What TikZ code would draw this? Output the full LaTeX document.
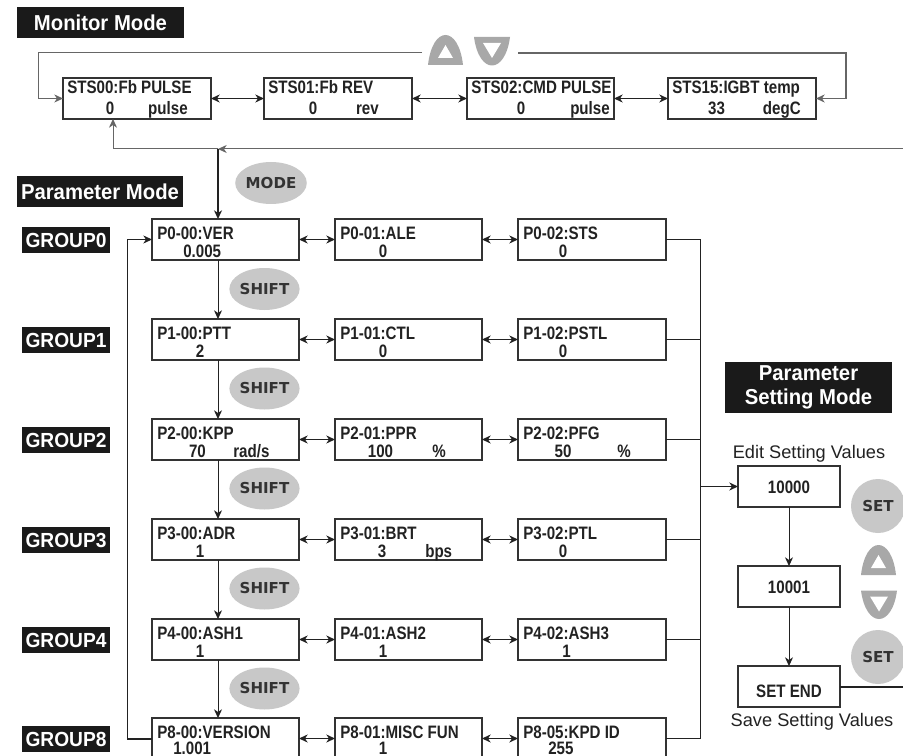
\documentclass[tikz,border=0pt]{standalone}
\usepackage{fontspec}
\setmainfont{Liberation Sans}
\newfontfamily\nfont{Liberation Sans}[FakeStretch=0.84]
\newfontfamily\lfont{Liberation Sans}[FakeStretch=0.94]
\newfontfamily\kfont{DejaVu Sans}
\usetikzlibrary{arrows.meta,calc,shapes.geometric}
\definecolor{boxline}{HTML}{333333}
\definecolor{keyfill}{HTML}{C8C8C8}
\definecolor{iconfill}{HTML}{A8A8A8}
\definecolor{labfill}{HTML}{1A1A1A}
\definecolor{ink}{HTML}{222222}
\definecolor{keyink}{HTML}{333333}
\definecolor{loopgray}{HTML}{666666}
\newcommand\mkmon[5]{\node[pbox, minimum width=#4*0.75pt] (#1) at (#2,#3) {};
  \node[btxt, anchor=base west] at ($(#1.north west)+(4,16)$) {#5};}
\newcommand\mkbox[5]{\node[pbox, minimum width=#4*0.75pt] (#1) at (#2,#3) {};
  \node[btxt, anchor=base west] at ($(#1.north west)+(5,20)$) {#5};}
\newcommand\vtxt[5]{\node[btxt, anchor=#2] at ($(#1.north west)+(#3,#4)$) {#5};}
\begin{document}
\begin{tikzpicture}[x=0.75pt,y=-0.75pt,
  pbox/.style={draw=boxline, line width=0.8pt, anchor=north west, inner sep=0pt, outer sep=0pt, minimum height=30.75pt},
  btxt/.style={inner sep=0pt, text=ink, font=\nfont\bfseries\fontsize{13.5pt}{15pt}\selectfont},
  labelbox/.style={fill=labfill, text=white, inner sep=0pt},
  grp/.style={labelbox, minimum width=66pt, minimum height=19.5pt, font=\lfont\bfseries\fontsize{15.3pt}{17pt}\selectfont},
  key/.style={ellipse, fill=keyfill, inner sep=0pt, minimum width=51.75pt, minimum height=31.5pt, text=keyink, font=\kfont\bfseries\fontsize{11.3pt}{12pt}\selectfont},
  setkey/.style={circle, fill=keyfill, inner sep=0pt, minimum size=40.5pt, text=keyink, font=\kfont\bfseries\fontsize{11.3pt}{12pt}\selectfont},
  tip/.tip={Stealth[length=6.5pt,width=6pt,inset=2pt]},
  arr/.style={-tip, line width=0.75pt, draw=ink},
  biarr/.style={tip-tip, line width=1pt, draw=ink},
  wire/.style={line width=0.75pt, draw=ink},
  upkey/.pic={\fill[iconfill] (-17.5,15) .. controls (-13,-25) and (13,-25) .. (17.5,15) -- cycle;
    \fill[white] (-7.5,8) -- (7.5,8) -- (0,-5) -- cycle;},
  downkey/.pic={\fill[iconfill] (-18,-14) .. controls (-13,24) and (13,24) .. (18,-14) -- cycle;
    \fill[white] (-9,-8) -- (9,-8) -- (0,7) -- cycle;}
]
\fill[white] (0,0) rectangle (903,756);
\useasboundingbox (0,0) rectangle (903,756);

% ---------- Monitor mode ----------
\node[labelbox, minimum width=125.25pt, minimum height=23.25pt, font=\lfont\bfseries\fontsize{16.2pt}{17.5pt}\selectfont] (mm) at (100.5,22.5) {Monitor Mode};

\mkmon{s00}{63}{78}{148}{STS00:Fb PULSE}
\vtxt{s00}{base}{47}{37}{0}\vtxt{s00}{base east}{125}{37}{pulse}
\mkmon{s01}{264}{78}{148}{STS01:Fb REV}
\vtxt{s01}{base}{49}{37}{0}\vtxt{s01}{base east}{115}{37}{rev}
\mkmon{s02}{467}{78}{147}{STS02:CMD PULSE}
\vtxt{s02}{base}{54}{37}{0}\vtxt{s02}{base east}{143}{37}{pulse}
\mkmon{s15}{668}{78}{148}{STS15:IGBT temp}
\vtxt{s15}{base}{48.5}{37}{33}\vtxt{s15}{base east}{133}{37}{degC}

\draw[biarr] (s00.east) -- (s01.west);
\draw[biarr] (s01.east) -- (s02.west);
\draw[biarr] (s02.east) -- (s15.west);

\pic at (445.5,50) {upkey};
\pic at (492,51) {downkey};
\coordinate (gl) at (422,53);
\coordinate (gr) at (518,53);
\coordinate (tl) at (38,53);
\coordinate (tr) at (846,53);
\draw[arr, draw=loopgray] (gl) -- (tl) |- (s00.west);
\draw[arr, draw=loopgray, line width=1.1pt] (gr) -- (tr) |- (s15.east);

% ---------- return line and MODE ----------
\coordinate (re) at (903,149);
\coordinate (mj) at (218,149);
\coordinate (vx) at (218,0);
\draw[arr, draw=loopgray] (re) -- (mj);
\draw[arr, draw=loopgray] (mj) -| ($(s00.south west)+(50,0)$);

% ---------- Parameter mode ----------
\node[labelbox, minimum width=124.5pt, minimum height=23.25pt, font=\lfont\bfseries\fontsize{16.2pt}{17.5pt}\selectfont] (pm) at (100,191.5) {Parameter Mode};
\node[key] (mode) at (271,183) {MODE};

% row 0
\mkbox{p00}{152}{219}{147}{P0-00:VER}\vtxt{p00}{base west}{31}{38}{0.005}
\mkbox{p01}{335}{219}{147}{P0-01:ALE}\vtxt{p01}{base}{48}{38}{0}
\mkbox{p02}{518}{219}{148}{P0-02:STS}\vtxt{p02}{base}{45}{38}{0}
% row 1
\mkbox{p10}{152}{319}{147}{P1-00:PTT}\vtxt{p10}{base}{48}{38}{2}
\mkbox{p11}{335}{319}{147}{P1-01:CTL}\vtxt{p11}{base}{48}{38}{0}
\mkbox{p12}{518}{319}{148}{P1-02:PSTL}\vtxt{p12}{base}{45}{38}{0}
% row 2
\mkbox{p20}{152}{419}{147}{P2-00:KPP}\vtxt{p20}{base}{45.5}{38}{70}\vtxt{p20}{base west}{81}{38}{rad/s}
\mkbox{p21}{335}{419}{147}{P2-01:PPR}\vtxt{p21}{base}{45.5}{38}{100}\vtxt{p21}{base west}{97}{38}{\%}
\mkbox{p22}{518}{419}{148}{P2-02:PFG}\vtxt{p22}{base}{45}{38}{50}\vtxt{p22}{base west}{99}{38}{\%}
% row 3
\mkbox{p30}{152}{519}{147}{P3-00:ADR}\vtxt{p30}{base}{48}{38}{1}
\mkbox{p31}{335}{519}{147}{P3-01:BRT}\vtxt{p31}{base}{47}{38}{3}\vtxt{p31}{base west}{90}{38}{bps}
\mkbox{p32}{518}{519}{148}{P3-02:PTL}\vtxt{p32}{base}{45}{38}{0}
% row 4
\mkbox{p40}{152}{619}{147}{P4-00:ASH1}\vtxt{p40}{base}{48}{38}{1}
\mkbox{p41}{335}{619}{147}{P4-01:ASH2}\vtxt{p41}{base}{48}{38}{1}
\mkbox{p42}{518}{619}{148}{P4-02:ASH3}\vtxt{p42}{base}{48.5}{38}{1}
% row 5
\mkbox{p80}{152}{718}{147}{P8-00:VERSION}\vtxt{p80}{base west}{21}{36}{1.001}
\mkbox{p81}{335}{718}{147}{P8-01:MISC FUN}\vtxt{p81}{base}{48}{36}{1}
\mkbox{p85}{518}{718}{148}{P8-05:KPD ID}\vtxt{p85}{base west}{30}{36}{255}

\foreach \r in {0,1,2,3,4,8}{
  \ifnum\r=8
    \draw[biarr] (p80.east) -- (p81.west);
    \draw[biarr] (p81.east) -- (p85.west);
  \else
    \draw[biarr] (p\r0.east) -- (p\r1.west);
    \draw[biarr] (p\r1.east) -- (p\r2.west);
  \fi
}

% group labels
\node[grp] (g0) at (66,240) {GROUP0};
\node[grp] (g1) at (66,340) {GROUP1};
\node[grp] (g2) at (66,440) {GROUP2};
\node[grp] (g3) at (66,540) {GROUP3};
\node[grp] (g4) at (66,640) {GROUP4};
\node[grp] (g8) at (66,739) {GROUP8};

% MODE arrow
\draw[arr, line width=1.5pt] (mj) -- (p00.north -| vx);

% SHIFT keys and vertical arrows
\node[key] (sh1) at (264.5,289) {SHIFT};
\node[key] (sh2) at (264.5,388.5) {SHIFT};
\node[key] (sh3) at (264.5,488.5) {SHIFT};
\node[key] (sh4) at (264.5,588.5) {SHIFT};
\node[key] (sh5) at (264.5,688.5) {SHIFT};
\draw[arr] (p00.south -| vx) -- (p10.north -| vx);
\draw[arr] (p10.south -| vx) -- (p20.north -| vx);
\draw[arr] (p20.south -| vx) -- (p30.north -| vx);
\draw[arr] (p30.south -| vx) -- (p40.north -| vx);
\draw[arr] (p40.south -| vx) -- (p80.north -| vx);

% left loop
\draw[line width=1.5pt, draw=ink] (p80.west) -- ++(-25,0);
\draw[arr] ($(p80.west)+(-25,0)$) |- (p00.west);

% right bus
\coordinate (bus) at (700,0);
\draw[wire] (p02.east) -- (p02.east -| bus) -- (p85.east -| bus) -- (p85.east);
\draw[wire] (p12.east) -- (p12.east -| bus);
\draw[wire] (p22.east) -- (p22.east -| bus);
\draw[wire] (p32.east) -- (p32.east -| bus);
\draw[wire] (p42.east) -- (p42.east -| bus);

% ---------- Parameter setting mode ----------
\node[labelbox, minimum width=125.25pt, minimum height=38.25pt, align=center, font=\lfont\bfseries\fontsize{16.2pt}{17.5pt}\selectfont] (psm) at (808.5,387.5) {Parameter\\Setting Mode};
\node[anchor=base, inner sep=0pt, text=ink, font=\fontsize{13.65pt}{15pt}\selectfont] (edit) at (809,458) {Edit Setting Values};
\node[pbox, minimum width=76.5pt] (v1) at (738,466) {};
\node[btxt, anchor=base] at ($(v1.north)+(0,27)$) {10000};
\node[pbox, minimum width=76.5pt] (v2) at (738,566) {};
\node[btxt, anchor=base] at ($(v2.north)+(0,27)$) {10001};
\node[pbox, minimum width=76.5pt] (v3) at (738,666) {};
\node[btxt, anchor=base] at ($(v3.north)+(0,31)$) {SET END};
\node[anchor=base, inner sep=0pt, text=ink, font=\fontsize{13.65pt}{15pt}\selectfont] (save) at (812,726) {Save Setting Values};

\draw[arr, line width=1.2pt] (v1.west -| bus) -- (v1.west);
\draw[arr] (v1.south) -- (v2.north);
\draw[arr] (v2.south) -- (v3.north);
\coordinate (edge) at (903,0);
\draw[line width=1.5pt, draw=ink] (v3.east) -- (v3.east -| edge);

\node[setkey] (set1) at (878,506) {SET};
\node[setkey] (set2) at (878,657) {SET};
\pic at (878.5,560) {upkey};
\pic at (879,604.5) {downkey};
\end{tikzpicture}
\end{document}
